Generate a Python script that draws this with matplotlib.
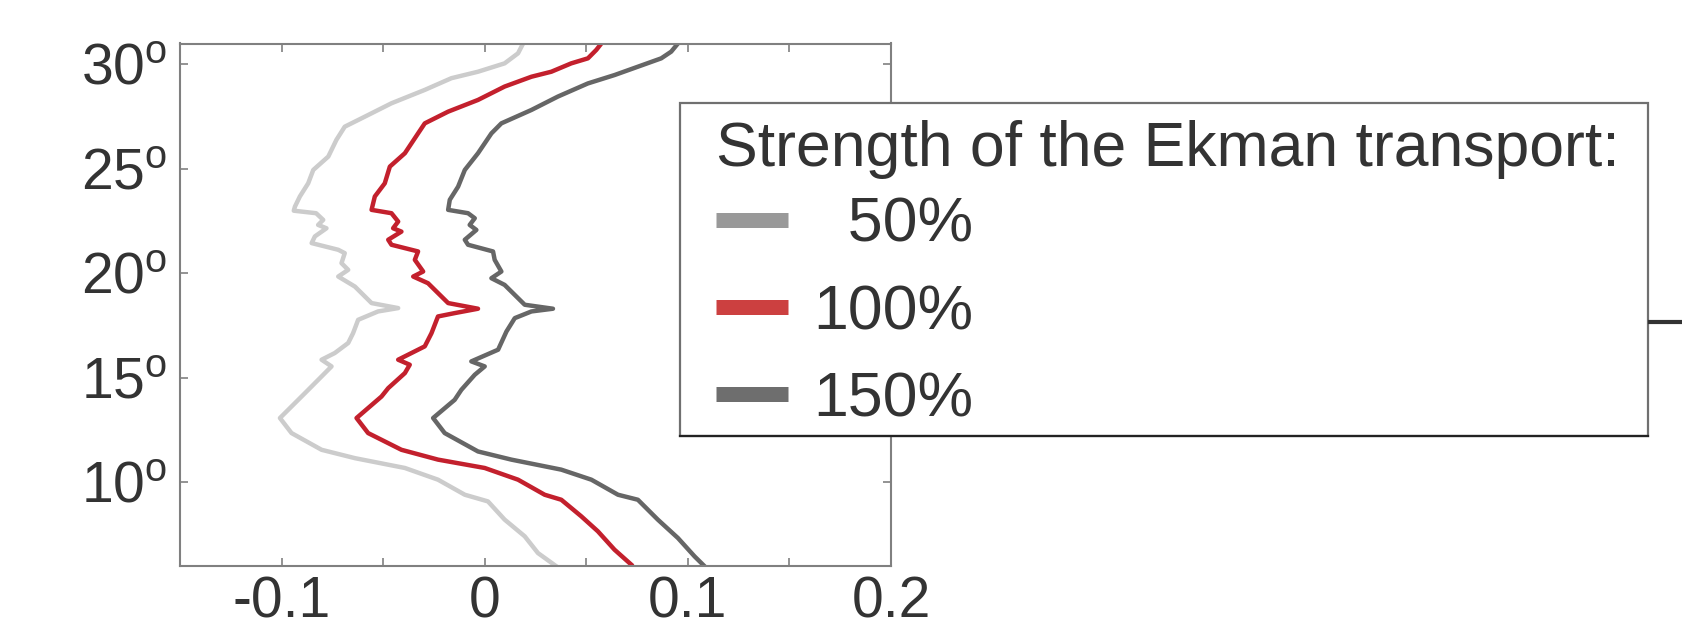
import matplotlib
matplotlib.use("Agg")
import matplotlib.pyplot as plt
from matplotlib.lines import Line2D
from matplotlib.patches import Rectangle

plt.rcParams['font.family'] = ['Liberation Sans', 'DejaVu Sans']
plt.rcParams['axes.unicode_minus'] = False
plt.rcParams['mathtext.fontset'] = 'custom'
plt.rcParams['mathtext.rm'] = 'Liberation Sans'

# Transporte zonal vs latitud para tres intensidades de Ekman
lat_50 = [31.0, 30.53, 30.05, 29.65, 29.34, 28.78, 28.14, 27.5, 27.02, 26.39, 25.59,
          24.95, 24.31, 23.68, 23.2, 23.0, 22.88, 22.56, 22.32, 22.16, 21.77, 21.45,
          21.13, 20.97, 20.49, 20.17, 19.85, 19.37, 18.58, 18.34, 18.18, 17.78, 17.14,
          16.67, 16.19, 15.87, 15.55, 15.07, 14.27, 13.08, 12.36, 11.56, 11.16, 10.69,
          10.13, 9.41, 9.09, 8.22, 7.42, 6.62, 5.99]
x_50 = [0.0189, 0.0164, 0.0098, -0.0033, -0.0164, -0.0295, -0.0459, -0.059, -0.0689,
        -0.073, -0.077, -0.0844, -0.0869, -0.091, -0.0934, -0.094, -0.083, -0.0795,
        -0.082, -0.0779, -0.0836, -0.0852, -0.0721, -0.0689, -0.0705, -0.0672, -0.0721,
        -0.0639, -0.0557, -0.0426, -0.0525, -0.0623, -0.0648, -0.0672, -0.0738, -0.0803,
        -0.0754, -0.0803, -0.0885, -0.1008, -0.0951, -0.0803, -0.0639, -0.0393, -0.023,
        -0.0098, 0.0016, 0.0098, 0.0197, 0.0262, 0.0352]

lat_100 = [31.0, 30.69, 30.29, 30.05, 29.65, 29.41, 28.94, 28.3, 27.74, 27.18, 26.7,
           25.75, 25.11, 24.31, 23.68, 23.04, 22.88, 22.48, 22.16, 22.0, 21.61, 21.37,
           21.05, 20.65, 20.09, 19.85, 19.53, 18.58, 18.31, 18.1, 17.94, 17.14, 16.51,
           15.87, 15.63, 15.23, 14.51, 14.11, 13.08, 12.36, 11.56, 11.09, 10.69, 10.13,
           9.41, 9.17, 8.38, 7.66, 6.78, 6.07]
x_100 = [0.0574, 0.0549, 0.0508, 0.0426, 0.0328, 0.023, 0.0098, -0.0033, -0.018, -0.0295,
         -0.0328, -0.0393, -0.0467, -0.0492, -0.0541, -0.0557, -0.0459, -0.0426, -0.0451,
         -0.041, -0.0475, -0.0459, -0.0328, -0.0344, -0.0303, -0.0352, -0.0279, -0.018,
         -0.0033, -0.0148, -0.023, -0.0262, -0.0295, -0.0426, -0.0369, -0.0393, -0.0475,
         -0.0508, -0.0631, -0.0574, -0.041, -0.023, 0.0, 0.0164, 0.0295, 0.0377, 0.0475,
         0.0557, 0.0639, 0.0721]

lat_150 = [31.0, 30.61, 30.29, 29.89, 29.49, 29.09, 28.46, 27.82, 27.18, 26.7, 25.75,
           24.95, 24.15, 23.52, 23.04, 22.88, 22.64, 22.32, 22.08, 21.61, 21.37, 21.05,
           20.65, 20.09, 19.77, 19.45, 18.5, 18.31, 18.18, 17.86, 17.22, 16.35, 15.79,
           15.55, 15.15, 14.43, 13.95, 13.08, 12.36, 11.48, 11.09, 10.61, 10.13, 9.41,
           9.17, 8.22, 7.34, 6.46, 5.99]
x_150 = [0.0951, 0.0918, 0.0869, 0.0754, 0.0639, 0.0508, 0.036, 0.023, 0.0082, 0.0033,
         -0.0033, -0.0098, -0.0131, -0.0172, -0.018, -0.0082, -0.0049, -0.0074, -0.0041,
         -0.0098, -0.0082, 0.0041, 0.0049, 0.0082, 0.0033, 0.0098, 0.0197, 0.0336, 0.023,
         0.0148, 0.0107, 0.0066, -0.0066, 0.0, -0.0049, -0.0115, -0.0148, -0.0254,
         -0.0197, -0.0033, 0.0131, 0.0377, 0.0525, 0.0656, 0.0754, 0.0852, 0.0951,
         0.1033, 0.1082]

titulo = "Strength of the Ekman transport:"
etiquetas = ["  50%", "100%", "150%"]
xticks = [-0.15, -0.1, -0.05, 0, 0.05, 0.1, 0.15, 0.2]
xticklabels = ["", "-0.1", "", "0", "", "0.1", "", "0.2"]
yticks = [10, 15, 20, 25, 30]
yticklabels = ["10$^\\mathrm{o}$", "15$^\\mathrm{o}$", "20$^\\mathrm{o}$",
               "25$^\\mathrm{o}$", "30$^\\mathrm{o}$"]

W, H = 1682, 622
fig = plt.figure(figsize=(W / 100, H / 100), dpi=100)
ax = fig.add_axes([180 / W, 1 - 566 / H, 711 / W, (566 - 43.5) / H])

ax.plot(x_50, lat_50, color='#cccccc', lw=3.2)
ax.plot(x_100, lat_100, color='#c3202d', lw=3.2)
ax.plot(x_150, lat_150, color='#666666', lw=3.2)

ax.set_xlim(-0.15, 0.2)
ax.set_ylim(6, 31)
ax.set_xticks(xticks)
ax.set_xticklabels(xticklabels)
ax.set_yticks(yticks)
ax.set_yticklabels(yticklabels)
ax.tick_params(direction='in', length=6, width=1.2, color='#808080',
               labelsize=41, labelcolor='#333333', top=True, right=True)
ax.tick_params(axis='x', pad=7)
ax.tick_params(axis='y', pad=9)
for s in ax.spines.values():
    s.set_color('#808080')
    s.set_linewidth(1.5)

# Caja de la leyenda
caja = Rectangle((680 / W, 1 - 436 / H), 968 / W, 333 / H, transform=fig.transFigure,
                 facecolor='white', edgecolor='#707070', lw=1.6, zorder=4)
fig.patches.append(caja)
fig.add_artist(Line2D([680 / W, 1648 / W], [1 - 436 / H, 1 - 436 / H],
                      transform=fig.transFigure, color='#222222', lw=1.6, zorder=4.5))
fig.add_artist(Line2D([1650 / W, 1.0], [1 - 322 / H, 1 - 322 / H],
                      transform=fig.transFigure, color='#333333', lw=3, zorder=4.5))

fig.text(716 / W, 1 - 166 / H, titulo, fontsize=45, color='#333333',
         va='baseline', ha='left', zorder=6)

handles = [Line2D([], [], color='#999999', lw=10.8, solid_capstyle='butt'),
           Line2D([], [], color='#cc4040', lw=10.8, solid_capstyle='butt'),
           Line2D([], [], color='#6e6e6e', lw=10.8, solid_capstyle='butt')]
leg = fig.legend(handles, etiquetas, loc='upper left',
                 bbox_to_anchor=(716 / W, 1 - 196 / H),
                 frameon=False, fontsize=45,
                 borderpad=0, borderaxespad=0, handlelength=1.15, handletextpad=0.4,
                 labelspacing=0.45)
leg.set_zorder(6)
for t in leg.get_texts():
    t.set_color('#333333')

fig.savefig("out.png", dpi=100)
